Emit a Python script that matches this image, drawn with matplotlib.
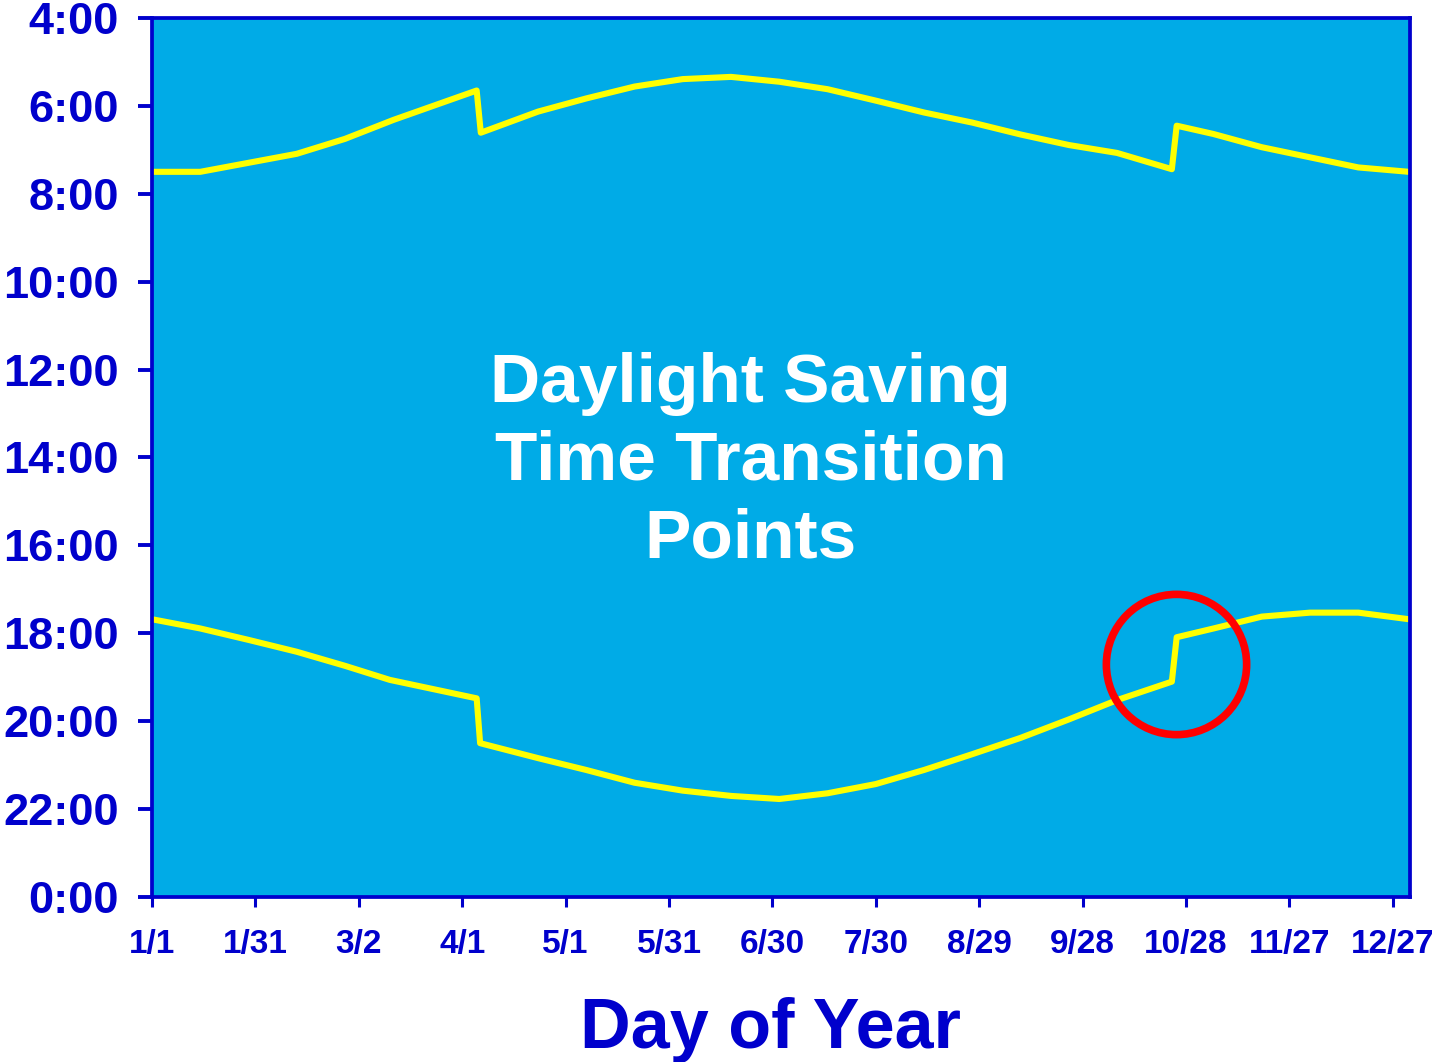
import matplotlib
matplotlib.use("Agg")
import matplotlib.pyplot as plt

plt.rcParams['font.family'] = ['Liberation Sans', 'DejaVu Sans']
plt.rcParams['font.weight'] = 'bold'

# day of year (0 = Jan 1) and clock time in hours
sunrise_days = [0, 14, 42, 56, 70, 94.2, 95.4, 112, 126, 140, 154, 168, 182, 196, 210,
                224, 238, 252, 266, 280, 295.9, 297.3, 308, 322, 336, 350, 364.7]
sunrise_hours = [7.50, 7.50, 7.09, 6.75, 6.32, 5.65, 6.61, 6.13, 5.83, 5.56, 5.39, 5.34, 5.45,
                 5.62, 5.88, 6.15, 6.38, 6.65, 6.89, 7.07, 7.44, 6.45, 6.64, 6.94, 7.17, 7.40, 7.50]

sunset_days = [0, 14, 28, 42, 56, 69, 84, 94.2, 95.2, 112, 126, 140, 154, 168, 182, 196,
               210, 224, 238, 252, 266, 280, 295.9, 297.3, 308, 322, 336, 350, 364.7]
sunset_hours = [17.68, 17.89, 18.15, 18.42, 18.74, 19.06, 19.31, 19.48, 20.50, 20.84, 21.11,
                21.40, 21.58, 21.70, 21.77, 21.64, 21.43, 21.11, 20.75, 20.38, 19.96, 19.52,
                19.10, 18.09, 17.89, 17.62, 17.53, 17.53, 17.68]

x_ticks = [0, 30, 60, 90, 120, 150, 180, 210, 240, 270, 300, 330, 360]
x_labels = ['1/1', '1/31', '3/2', '4/1', '5/1', '5/31', '6/30', '7/30', '8/29', '9/28',
            '10/28', '11/27', '12/27']
y_ticks = [4, 6, 8, 10, 12, 14, 16, 18, 20, 22, 24]
y_labels = ['4:00', '6:00', '8:00', '10:00', '12:00', '14:00', '16:00', '18:00', '20:00',
            '22:00', '0:00']

circle_day = 297.0
circle_hour = 18.69

navy = '#0000CC'

fig = plt.figure(figsize=(14.35, 10.62), dpi=100)
ax = fig.add_axes([152 / 1435, 165 / 1062, 1258 / 1435, 879 / 1062])
ax.set_facecolor('#00ABE7')

ax.plot(sunrise_days, sunrise_hours, color='#FFFF00', lw=4.4,
        solid_joinstyle='round', solid_capstyle='round')
ax.plot(sunset_days, sunset_hours, color='#FFFF00', lw=4.4,
        solid_joinstyle='round', solid_capstyle='round')

# highlight the fall transition
ax.plot([circle_day], [circle_hour], marker='o', markersize=101, markerfacecolor='none',
        markeredgecolor='#FF0000', markeredgewidth=5.5, clip_on=False)

ax.text(0.476, 0.495, 'Daylight Saving\nTime Transition\nPoints', transform=ax.transAxes,
        ha='center', va='center', multialignment='center', color='white',
        fontsize=50, fontweight='bold', linespacing=1.28)

ax.set_xlim(0, 365)
ax.set_ylim(24, 4)
ax.set_xticks(x_ticks)
ax.set_xticklabels(x_labels)
ax.set_yticks(y_ticks)
ax.set_yticklabels(y_labels)

ax.tick_params(axis='y', direction='out', length=10, width=2.8, color=navy,
               labelcolor=navy, labelsize=32.5, pad=14)
ax.tick_params(axis='x', direction='out', length=7, width=2.2, color=navy,
               labelcolor=navy, labelsize=24, pad=16)
for lab in ax.get_xticklabels() + ax.get_yticklabels():
    lab.set_fontweight('bold')

for s in ax.spines.values():
    s.set_color(navy)
    s.set_linewidth(2.7)

fig.text(770 / 1435, 14 / 1062, 'Day of Year', ha='center', va='baseline',
         color=navy, fontsize=50.5, fontweight='bold')

fig.savefig('out.png', dpi=100, facecolor='white')
